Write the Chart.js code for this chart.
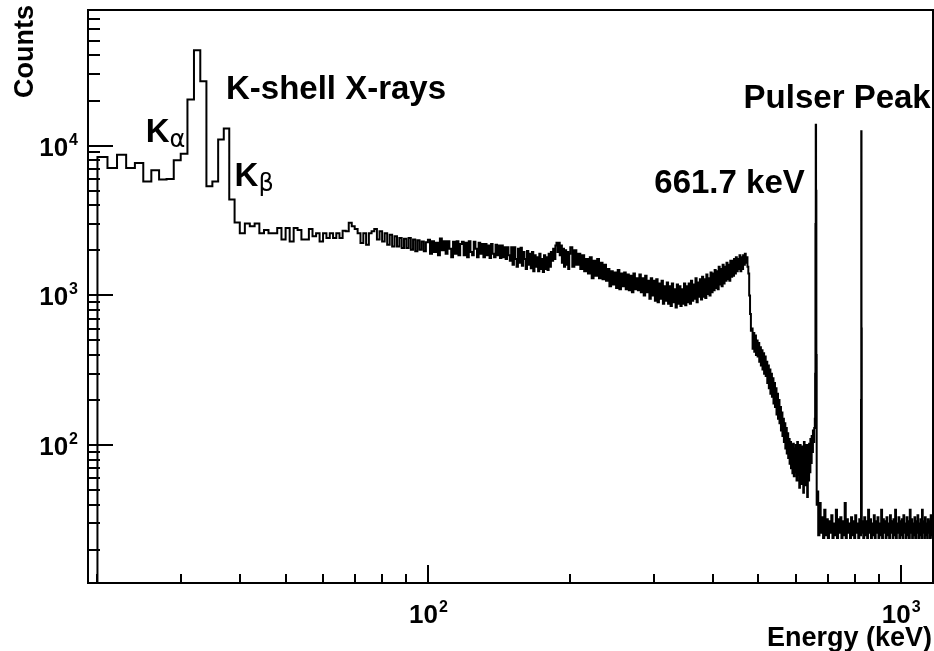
<!DOCTYPE html>
<html><head><meta charset="utf-8">
<script src="https://cdn.jsdelivr.net/npm/chart.js@4/dist/chart.umd.min.js"></script>
<style>html,body{margin:0;padding:0;background:#fff;}#wrap{width:934px;height:651px;position:relative;}</style>
</head><body><div id="wrap"><canvas id="c" width="934" height="651"></canvas></div>
<script>
// ---------------- data (keV bins, counts) ----------------
const xAxisRange = [19.1, 1170];
const yAxisRange = [12, 80500];
const xTickExponents = [2, 3];
const yTickExponents = [2, 3, 4];
const xTitle = 'Energy (keV)';
const yTitle = 'Counts';

// 19–99 keV, 1 keV bins
const lowStart = 19, lowWidth = 1;
const countsLow = [1, 8400, 7100, 8700, 7100, 7660, 5770, 6840, 5930, 5990,
  7980, 8840, 20300, 43400, 26900, 5350, 5770, 10970, 12990, 4360, 3070,
  2600, 3020, 2900, 3020, 2600, 2730, 2600, 2600, 2820, 2360,
  2820, 2290, 2820, 2730, 2360, 2360, 2780, 2480, 2600, 2290,
  2600, 2420, 2600, 2420, 2600, 2420, 2700, 2680, 3050, 2900,
  2780, 2600, 2240, 2600, 2180, 2600, 2680, 2780, 2360, 2680,
  2290, 2600, 2180, 2540, 2120, 2480, 2120, 2420, 2070, 2390,
  2070, 2420, 2020, 2360, 1970, 2330, 2020, 2290, 1970, 2260];

// 100–199 keV, 1 keV bins
const midStart = 100, midWidth = 1;
const countsMid = [2350, 1900, 2300, 1950, 2250, 1850, 2400, 2000, 2300, 1900,
  2300, 2050, 1800, 2280, 1900, 2300, 1850, 2200, 2280, 1850,
  2250, 1800, 2300, 1950, 1850, 2280, 2050, 1800, 2250, 1900,
  2200, 1800, 2200, 1850, 2150, 1780, 2200, 1900, 1800, 2180,
  1850, 2150, 1780, 2150, 1800, 2100, 1750, 2100, 1850, 1700,
  2100, 1600, 2100, 1750, 1550, 2050, 1650, 2080, 1580, 1950,
  1750, 1500, 1980, 1600, 1900, 1520, 1950, 1450, 1850, 1550,
  1800, 1450, 1900, 1500, 1750, 1430, 1850, 1500, 1800, 1480,
  1900, 1550, 1950, 1700, 2050, 1750, 2150, 2250, 1950, 2250,
  1850, 2150, 1650, 2050, 1550, 2000, 1600, 1950, 1500, 1900];

// 200–657 keV, 2 keV bins
const comptonStart = 200, comptonWidth = 2;
const countsCompton = [2100, 1550, 2000, 1600, 1900, 1500, 1850, 1450, 1750, 1400,
  1800, 1300, 1700, 1350, 1750, 1300, 1650, 1280, 1600, 1250,
  1500, 1150, 1450, 1180, 1420, 1120, 1480, 1100, 1400, 1150,
  1420, 1100, 1380, 1080, 1350, 1050, 1400, 1100, 1300, 1080,
  1380, 1050, 1300, 1000, 1350, 1050, 1250, 950, 1300, 1000,
  1250, 920, 1280, 900, 1200, 950, 1250, 880, 1150, 920,
  1220, 880, 1150, 850, 1200, 900, 1100, 830, 1180, 880,
  1150, 850, 1100, 880, 1200, 860, 1150, 900, 1200, 880,
  1250, 920, 1180, 950, 1300, 900, 1220, 980, 1280, 940,
  1330, 980, 1280, 960, 1380, 1020, 1300, 1000, 1420, 1050,
  1400, 1080, 1480, 1120, 1450, 1100, 1550, 1180, 1500, 1150,
  1600, 1200, 1550, 1250, 1650, 1280, 1600, 1250, 1700, 1330,
  1700, 1350, 1750, 1400, 1800, 1450, 1750, 1500, 1850, 1450,
  1800, 1500, 1850, 1600, 1900, 1650, 1800, 1550, 1400, 1000,
  750, 580, 600, 440, 560, 420, 540, 400, 500, 390,
  480, 360, 450, 340, 430, 320, 410, 300, 390, 290,
  360, 260, 340, 240, 320, 220, 300, 210, 280, 190,
  260, 180, 240, 160, 220, 150, 200, 140, 180, 125,
  165, 115, 150, 105, 140, 95, 130, 88, 120, 82,
  110, 75, 105, 70, 100, 65, 102, 62, 95, 66,
  100, 58, 105, 64, 92, 52, 100, 62, 90, 55,
  98, 48, 105, 60, 90, 54, 100, 45, 95, 58,
  102, 66, 110, 76, 115, 90, 125, 105, 130];

// 658–664 keV, 1 keV bins (661.7 keV photopeak)
const peakStart = 658, peakWidth = 1;
const countsPeak = [150, 300, 3000, 13800, 5000, 400, 40];

// 665–820 keV, 4 keV bins
const floorAStart = 665, floorAWidth = 4;
const countsFloorA = [49, 25, 41, 26, 33, 24, 37, 25, 32, 24, 31, 26, 34, 24, 30, 25, 37, 24, 32, 26,
  33, 24, 31, 25, 41, 24, 32, 26, 30, 24, 33, 25, 31, 24, 34, 26, 30, 24, 32];

// 821–828 keV, 1 keV bins (pulser)
const pulserStart = 821, pulserWidth = 1;
const countsPulser = [27, 31, 25, 200, 12460, 600, 26, 31];

// 829–1172 keV, 4 keV bins
const floorBStart = 829, floorBWidth = 4;
const countsFloorB = [30, 24, 33, 25, 31, 24, 37, 26, 32, 24, 30, 25, 34, 24, 31, 26, 33, 24, 30, 25,
  37, 24, 32, 26, 31, 24, 33, 25, 30, 24, 34, 26, 31, 24, 32, 25, 37, 24, 30, 26,
  33, 24, 31, 25, 32, 24, 34, 26, 30, 24, 33, 25, 31, 24, 37, 26, 32, 24, 30, 25,
  33, 24, 31, 26, 34, 24, 30, 25, 32, 24, 37, 26, 31, 24, 33, 25, 30, 24, 32, 26,
  31, 24, 34, 25, 30, 24];

// annotations placed in data coordinates (keV, counts)
const noteTexts = ['K-shell X-rays', '661.7 keV', 'Pulser Peak'];
const noteEnergy = [37.4, 626.6, 1157];
const noteCounts = [20600, 4830, 17860];
const noteAlign = ['left', 'right', 'right'];
const subNoteMain = ['K', 'K'];
const subNoteSub = ['\u03B1', '\u03B2'];
const subNoteEnergy = [25.3, 39.0];
const subNoteCounts = [10520, 5345];

// ---------------- build histogram path points ----------------
const points = [];
let edge = 0, lastVal = 0;
function addSegment(start, width, counts) {
  counts.forEach((c, i) => points.push({x: start + i * width, y: c}));
  edge = start + counts.length * width;
  lastVal = counts[counts.length - 1];
}
addSegment(lowStart, lowWidth, countsLow);
addSegment(midStart, midWidth, countsMid);
addSegment(comptonStart, comptonWidth, countsCompton);
addSegment(peakStart, peakWidth, countsPeak);
addSegment(floorAStart, floorAWidth, countsFloorA);
addSegment(pulserStart, pulserWidth, countsPulser);
addSegment(floorBStart, floorBWidth, countsFloorB);
points.push({x: edge, y: lastVal});

const BOLD = 'Liberation Sans, Arial, Helvetica, sans-serif';

function powLabel(ctx, exp, anchorX, tickPos, mode) {
  const mainFont = 'bold 26px ' + BOLD, supFont = 'bold 16px ' + BOLD;
  ctx.font = mainFont; const w1 = ctx.measureText('10').width;
  ctx.font = supFont; const w2 = ctx.measureText(String(exp)).width;
  let x0, base;
  if (mode === 'y') { x0 = anchorX - w1 - w2 - 1; base = tickPos + 10; }
  else { x0 = anchorX - (w1 + w2) / 2; base = tickPos; }
  ctx.font = mainFont; ctx.textAlign = 'left'; ctx.textBaseline = 'alphabetic';
  ctx.fillText('10', x0, base);
  ctx.font = supFont; ctx.fillText(String(exp), x0 + w1 + 1, base - 11);
}

const rootFrame = {
  id: 'rootFrame',
  afterDatasetsDraw(chart) {
    const {ctx, chartArea: a, scales: {x, y}} = chart;
    ctx.save();
    ctx.strokeStyle = '#000'; ctx.fillStyle = '#000'; ctx.lineWidth = 2;
    ctx.beginPath();
    for (let e = 0; e <= 5; e++) for (let m = 1; m <= 9; m++) {
      const v = m * Math.pow(10, e);
      if (v < yAxisRange[0] || v > yAxisRange[1]) continue;
      const py = Math.round(y.getPixelForValue(v));
      ctx.moveTo(a.left, py); ctx.lineTo(a.left + (m === 1 ? 25 : 12), py);
    }
    for (let e = 1; e <= 3; e++) for (let m = 1; m <= 9; m++) {
      const v = m * Math.pow(10, e);
      if (v < xAxisRange[0] || v > xAxisRange[1]) continue;
      const px = Math.round(x.getPixelForValue(v));
      ctx.moveTo(px, a.bottom); ctx.lineTo(px, a.bottom - (m === 1 ? 18 : 9));
    }
    ctx.stroke();
    ctx.strokeRect(a.left, a.top, a.right - a.left, a.bottom - a.top);

    yTickExponents.forEach(e => powLabel(ctx, e, a.left - 10, y.getPixelForValue(Math.pow(10, e)), 'y'));
    xTickExponents.forEach(e => powLabel(ctx, e, x.getPixelForValue(Math.pow(10, e)), a.bottom + 40, 'x'));

    ctx.font = 'bold 27px ' + BOLD;
    ctx.textAlign = 'right'; ctx.textBaseline = 'alphabetic';
    ctx.fillText(xTitle, a.right - 1, a.bottom + 63);
    ctx.save();
    ctx.translate(33, a.top - 5); ctx.rotate(-Math.PI / 2);
    ctx.fillText(yTitle, 0, 0);
    ctx.restore();

    ctx.font = 'bold 33px ' + BOLD;
    noteTexts.forEach((t, i) => {
      ctx.textAlign = noteAlign[i];
      ctx.fillText(t, x.getPixelForValue(noteEnergy[i]), y.getPixelForValue(noteCounts[i]));
    });
    subNoteMain.forEach((t, i) => {
      const px = x.getPixelForValue(subNoteEnergy[i]), py = y.getPixelForValue(subNoteCounts[i]);
      ctx.textAlign = 'left';
      ctx.font = 'bold 33px ' + BOLD; ctx.fillText(t, px, py);
      const w = ctx.measureText(t).width;
      ctx.font = '24px ' + 'DejaVu Sans, sans-serif';
      ctx.fillText(subNoteSub[i], px + w, py + 5);
    });
    ctx.restore();
  }
};

new Chart(document.getElementById('c'), {
  type: 'line',
  data: { datasets: [{
    data: points,
    stepped: 'before',
    borderColor: '#000',
    borderWidth: 2,
    pointRadius: 0,
    fill: false,
    tension: 0
  }]},
  options: {
    responsive: false,
    animation: false,
    devicePixelRatio: 1,
    events: [],
    layout: { padding: { left: 88, top: 10, right: 1, bottom: 68 } },
    plugins: { legend: { display: false }, tooltip: { enabled: false } },
    scales: {
      x: { type: 'logarithmic', min: xAxisRange[0], max: xAxisRange[1], display: false },
      y: { type: 'logarithmic', min: yAxisRange[0], max: yAxisRange[1], display: false }
    }
  },
  plugins: [rootFrame]
});
</script></body></html>
